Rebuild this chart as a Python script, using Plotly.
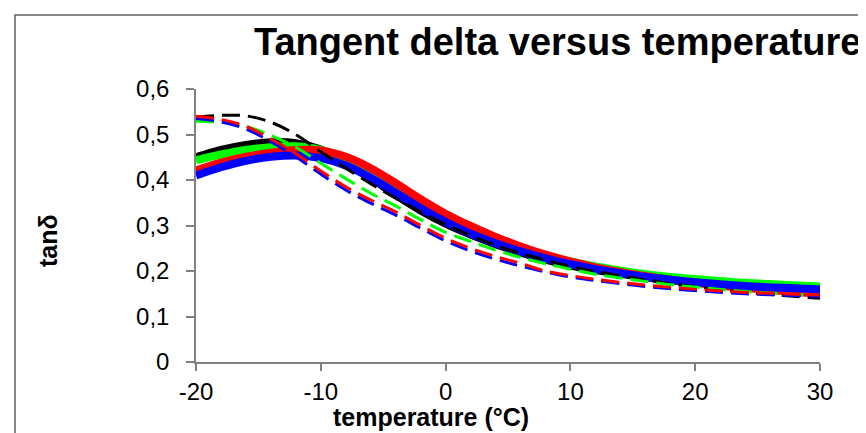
import plotly.graph_objects as go

temperature = [-20, -18, -16, -14, -12, -10, -8, -6, -4, -2, 0, 2, 4, 6, 8, 10, 12, 15, 18, 21, 24, 27, 30]

solid_black = [0.450, 0.466, 0.477, 0.483, 0.481, 0.467, 0.440, 0.405, 0.367, 0.333, 0.304, 0.280, 0.259, 0.241, 0.225, 0.212, 0.202, 0.190, 0.180, 0.172, 0.165, 0.160, 0.155]
solid_green = [0.443, 0.456, 0.466, 0.472, 0.474, 0.466, 0.447, 0.417, 0.381, 0.346, 0.316, 0.290, 0.268, 0.250, 0.234, 0.221, 0.210, 0.197, 0.187, 0.180, 0.174, 0.170, 0.166]
solid_red = [0.421, 0.438, 0.451, 0.460, 0.466, 0.465, 0.451, 0.426, 0.393, 0.358, 0.326, 0.299, 0.275, 0.254, 0.236, 0.221, 0.208, 0.193, 0.181, 0.171, 0.163, 0.156, 0.150]
solid_blue = [0.410, 0.428, 0.442, 0.451, 0.454, 0.448, 0.432, 0.405, 0.372, 0.338, 0.308, 0.282, 0.261, 0.243, 0.228, 0.215, 0.204, 0.191, 0.181, 0.173, 0.167, 0.163, 0.160]

dashed_black = [0.538, 0.542, 0.541, 0.527, 0.500, 0.462, 0.426, 0.392, 0.360, 0.330, 0.302, 0.278, 0.257, 0.239, 0.224, 0.210, 0.199, 0.185, 0.172, 0.162, 0.153, 0.146, 0.140]
dashed_red = [0.540, 0.533, 0.518, 0.490, 0.458, 0.420, 0.385, 0.356, 0.330, 0.300, 0.272, 0.250, 0.232, 0.217, 0.200, 0.190, 0.182, 0.172, 0.164, 0.158, 0.153, 0.150, 0.147]
dashed_green = [0.529, 0.527, 0.518, 0.498, 0.472, 0.437, 0.403, 0.371, 0.343, 0.313, 0.285, 0.265, 0.246, 0.230, 0.216, 0.204, 0.193, 0.181, 0.170, 0.162, 0.155, 0.150, 0.146]
dashed_blue = [0.535, 0.528, 0.512, 0.484, 0.451, 0.413, 0.378, 0.349, 0.323, 0.294, 0.266, 0.244, 0.226, 0.211, 0.198, 0.187, 0.179, 0.169, 0.161, 0.155, 0.150, 0.147, 0.144]

x_ticks = [-20, -10, 0, 10, 20, 30]
x_tick_labels = ["-20", "-10", "0", "10", "20", "30"]

FONT = "Liberation Sans, Arial, sans-serif"

fig = go.Figure()

solids = [("black", solid_black, "#000000"), ("green", solid_green, "#00FF00"),
          ("red", solid_red, "#FF0000"), ("blue", solid_blue, "#0000FF")]
dashes = [("black dashed", dashed_black, "#000000"), ("green dashed", dashed_green, "#00FF00"),
          ("blue dashed", dashed_blue, "#0000FF"), ("red dashed", dashed_red, "#FF0000")]

for name, vals, col in solids:
    fig.add_trace(go.Scatter(x=temperature, y=vals, mode="lines", name=name,
                             line=dict(color=col, width=8, shape="spline", smoothing=1.0)))
for name, vals, col in dashes:
    fig.add_trace(go.Scatter(x=temperature, y=vals, mode="lines", name=name,
                             line=dict(color=col, width=3, shape="spline", smoothing=1.0, dash="18px,8px")))

fig.update_layout(
    width=866, height=433,
    margin=dict(l=188, r=54, t=81, b=79),
    paper_bgcolor="white", plot_bgcolor="white",
    showlegend=False,
    separators=", ",
    font=dict(family=FONT, size=24, color="black"),
    xaxis=dict(range=[-20, 30], tickvals=x_ticks, ticktext=x_tick_labels, ticks="outside", ticklen=7,
               tickwidth=1.5, tickcolor="#808080", showline=True, linecolor="#808080", linewidth=1.5,
               showgrid=False, zeroline=False, tickfont=dict(size=24, family=FONT),
               ticklabelstandoff=0),
    yaxis=dict(range=[0, 0.6], dtick=0.1, tick0=0, ticks="outside", ticklen=8, tickwidth=1.5,
               tickcolor="#808080", showline=True, linecolor="#808080", linewidth=1.5,
               showgrid=False, zeroline=False, tickfont=dict(size=24, family=FONT),
               ticklabelstandoff=12),
)

# outer frame
fig.add_shape(type="rect", xref="paper", yref="paper",
              x0=(7 - 188) / 624, x1=(863 - 188) / 624,
              y0=(354 - 445) / 273, y1=(354 - 7) / 273,
              line=dict(color="#606060", width=1.5), fillcolor="rgba(0,0,0,0)", layer="below")

fig.add_annotation(text="<b>Tangent delta versus temperature</b>", xref="paper", yref="paper",
                   x=(855 - 188) / 624, y=(354 - 34) / 273, xanchor="right", yanchor="middle",
                   showarrow=False, font=dict(family=FONT, size=38, color="black"))
fig.add_annotation(text="<b>temperature (°C)</b>", xref="paper", yref="paper",
                   x=(423 - 188) / 624, y=(354 - 409) / 273, xanchor="center", yanchor="middle",
                   showarrow=False, font=dict(family=FONT, size=25, color="black"))
fig.add_annotation(text="<b>tanδ</b>", xref="paper", yref="paper",
                   x=(40 - 188) / 624, y=(354 - 233) / 273, xanchor="center", yanchor="middle",
                   textangle=-90, showarrow=False, font=dict(family=FONT, size=25, color="black"))

fig.write_html("out.html")
